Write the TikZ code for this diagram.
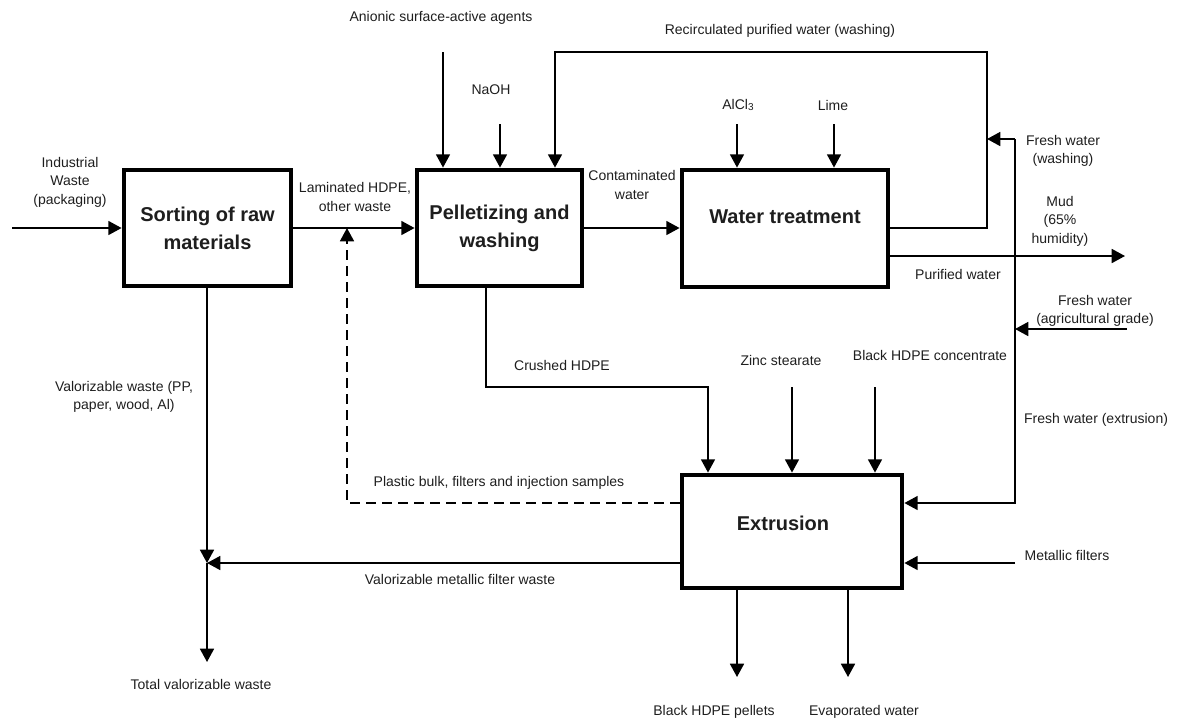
\documentclass[tikz,border=0pt]{standalone}
\usepackage{fontspec}
\setmainfont{Liberation Sans}
\usetikzlibrary{arrows.meta}
\definecolor{ink}{HTML}{1E1E1E}
\begin{document}
\begin{tikzpicture}[x=0.75pt,y=-0.75pt,
  font=\fontsize{10.5}{13.9}\selectfont,
  process/.style={draw=black,line width=3.6pt,fill=white,inner sep=0pt},
  title/.style={font=\fontsize{15}{21}\selectfont\bfseries,text=ink,align=center},
  lbl/.style={text=ink,align=center,inner sep=1pt},
  flow/.style={line width=1.3pt,-{Triangle[length=10pt,width=10.5pt]}},
  recycle/.style={flow,dash pattern=on 7.5pt off 4.5pt}]
\useasboundingbox (0,0) rectangle (1177,722);

% process units
\node[process,minimum width=167*0.75pt,minimum height=116*0.75pt] (sort) at (207.5,228) {};
\node[process,minimum width=165*0.75pt,minimum height=116*0.75pt] (pel) at (499.5,228) {};
\node[process,minimum width=206*0.75pt,minimum height=117*0.75pt] (wat) at (785,228.5) {};
\node[process,minimum width=220*0.75pt,minimum height=113*0.75pt] (ext) at (792,531.5) {};

\node[title] (sortT) at (sort.center) {Sorting of raw\\materials};
\node[title] (pelT) at (pel.center) {Pelletizing and\\washing};
\node[title] (watT) at (785,217) {Water treatment};
\node[title] (extT) at (783,523) {Extrusion};

% free ends and bends
\coordinate (iw) at (12,228);
\coordinate (dj) at (347,228);
\coordinate (dr) at (347,503);
\coordinate (an) at (443,52);
\coordinate (na) at (500,124);
\coordinate (rc1) at (987,52);
\coordinate (rc2) at (555,52);
\coordinate (fw1) at (1015,139);
\coordinate (fwb) at (1015,503);
\coordinate (ag) at (1127,329);
\coordinate (agj) at (1015,329);
\coordinate (mud) at (1125,256);
\coordinate (al) at (737,124);
\coordinate (li) at (834,124);
\coordinate (crs) at (486,387);
\coordinate (cr) at (708,387);
\coordinate (zn) at (792,387);
\coordinate (bk) at (875,387);
\coordinate (vj) at (207,563);
\coordinate (tv) at (207,662);
\coordinate (mf) at (1015,563);
\coordinate (bp) at (737,677);
\coordinate (ev) at (848,677);

% main line
\draw[flow] (iw) -- (sort.west);
\draw[flow] (sort.east) -- (pel.west);
\draw[flow] (pel.east) -- (wat.west |- pel.east);

% reagents into washing
\draw[flow] (an) -- (an |- pel.north);
\draw[flow] (na) -- (na |- pel.north);
\draw[flow] (wat.east |- sort.east) -- (rc1 |- sort.east) -- (rc1) -- (rc2) -- (rc2 |- pel.north);

% water treatment
\draw[flow] (al) -- (al |- wat.north);
\draw[flow] (li) -- (li |- wat.north);
\draw[flow] (wat.east |- mud) -- (mud);
\draw[flow] (fw1) -- (rc1 |- fw1);
\draw[flow] (fw1) -- (fwb) -- (ext.east |- fwb);
\draw[flow] (ag) -- (agj);

% extrusion feeds
\draw[flow] (crs |- pel.south) -- (crs) -- (cr) -- (cr |- ext.north);
\draw[flow] (zn) -- (zn |- ext.north);
\draw[flow] (bk) -- (bk |- ext.north);
\draw[flow] (mf) -- (ext.east |- mf);
\draw[recycle] (ext.west |- dr) -- (dr) -- (dj);

% products and waste
\draw[flow] (bp |- ext.south) -- (bp);
\draw[flow] (ev |- ext.south) -- (ev);
\draw[flow] (vj |- sort.south) -- (vj);
\draw[flow] (ext.west |- vj) -- (vj);
\draw[flow] (vj) -- (tv);

% stream labels
\node[lbl] (l1) at (70,182) {Industrial\\Waste\\(packaging)};
\node[lbl] (l2) at (355,197) {Laminated HDPE,\\other waste};
\node[lbl] (l3) at (499,483) {Plastic bulk, filters and injection samples};
\node[lbl] (l4) at (441,18) {Anionic surface-active agents};
\node[lbl] (l5) at (491,90) {NaOH};
\node[lbl] (l6) at (780,31) {Recirculated purified water (washing)};
\node[lbl] (l7) at (738,105) {AlCl\raisebox{-0.25ex}{\fontsize{7.5}{8}\selectfont 3}};
\node[lbl] (l8) at (833,105) {Lime};
\node[lbl] (l9) at (632,185) {Contaminated\\water};
\node[lbl] (l10) at (1063,151) {Fresh water\\(washing)};
\node[lbl] (l11) at (1060,221) {Mud\\(65\%\\humidity)};
\node[lbl] (l12) at (958,274) {Purified water};
\node[lbl] (l13) at (1095,311) {Fresh water\\(agricultural grade)};
\node[lbl] (l14) at (1096,420) {Fresh water (extrusion)};
\node[lbl] (l15) at (562,365) {Crushed HDPE};
\node[lbl] (l16) at (781,360) {Zinc stearate};
\node[lbl] (l17) at (930,355) {Black HDPE concentrate};
\node[lbl] (l18) at (124,397) {Valorizable waste (PP,\\paper, wood, Al)};
\node[lbl] (l19) at (460,579) {Valorizable metallic filter waste};
\node[lbl] (l20) at (201,684) {Total valorizable waste};
\node[lbl] (l21) at (1067,555) {Metallic filters};
\node[lbl] (l22) at (714,712) {Black HDPE pellets};
\node[lbl] (l23) at (864,712) {Evaporated water};
\end{tikzpicture}
\end{document}
